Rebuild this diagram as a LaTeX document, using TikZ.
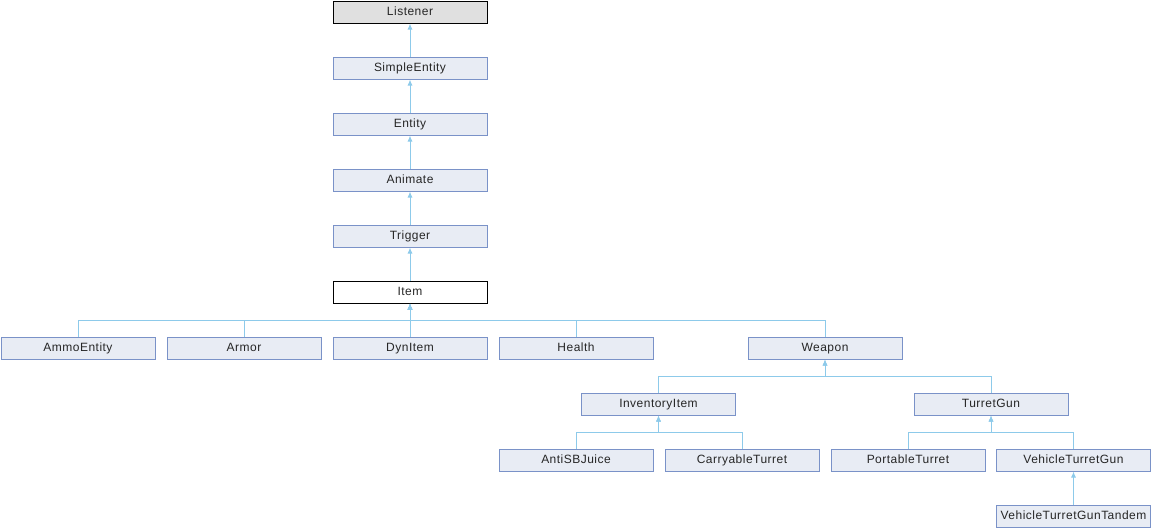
\documentclass[tikz,border=0pt]{standalone}
\usepackage{fontspec}
\setmainfont{Liberation Sans}[LetterSpace=4]
\usetikzlibrary{arrows.meta}
\definecolor{boxfill}{HTML}{E8ECF4}
\definecolor{boxline}{HTML}{7A92C8}
\definecolor{edgeline}{HTML}{8DCAEA}
\definecolor{rootfill}{HTML}{E0E0E0}
\tikzset{
  cls/.style={draw=boxline, fill=boxfill, line width=1pt, minimum width=154pt,
    minimum height=22pt, inner sep=0pt, text height=8.6pt, text depth=2.6pt,
    text=black!85, font=\fontsize{12}{14}\selectfont},
  rootcls/.style={cls, draw=black, fill=rootfill},
  curcls/.style={cls, draw=black, fill=white},
  inherit/.style={draw=edgeline, line width=1pt, -{Latex[length=6pt,width=5pt]}}
}
\begin{document}
\begin{tikzpicture}[x=1pt,y=1pt]
\useasboundingbox (0,0) rectangle (1152,-528);

% Marking the chain of bases
\node [rootcls] (listener) at (410,-12) {Listener};
\node [cls] (simpleentity) at (410,-68) {SimpleEntity};
\node [cls] (entity) at (410,-124) {Entity};
\node [cls] (animate) at (410,-180) {Animate};
\node [cls] (trigger) at (410,-236) {Trigger};
\node [curcls] (item) at (410,-292) {Item};

% Marking the children of Item
\node [cls] (ammoentity) at (78,-348) {AmmoEntity};
\node [cls] (armor) at (244,-348) {Armor};
\node [cls] (dynitem) at (410,-348) {DynItem};
\node [cls] (health) at (576,-348) {Health};
\node [cls] (weapon) at (825,-348) {Weapon};

% Marking the children of Weapon
\node [cls] (inventoryitem) at (658.5,-404) {InventoryItem};
\node [cls] (turretgun) at (991,-404) {TurretGun};

% Marking the leaves
\node [cls] (antisbjuice) at (576,-460) {AntiSBJuice};
\node [cls] (carryableturret) at (742,-460) {CarryableTurret};
\node [cls] (portableturret) at (908,-460) {PortableTurret};
\node [cls] (vehicleturretgun) at (1073.5,-460) {VehicleTurretGun};
\node [cls] (vehicleturretguntandem) at (1073.5,-516) {VehicleTurretGunTandem};

% Drawing edges up the chain
\draw [inherit] (simpleentity) -- (listener);
\draw [inherit] (entity) -- (simpleentity);
\draw [inherit] (animate) -- (entity);
\draw [inherit] (trigger) -- (animate);
\draw [inherit] (item) -- (trigger);

% Drawing edges to Item
\draw [inherit] (ammoentity.north) -- ++(0,16) -| (item.south);
\draw [inherit] (armor.north) -- ++(0,16) -| (item.south);
\draw [inherit] (dynitem) -- (item);
\draw [inherit] (health.north) -- ++(0,16) -| (item.south);
\draw [inherit] (weapon.north) -- ++(0,16) -| (item.south);

% Drawing edges to Weapon
\draw [inherit] (inventoryitem.north) -- ++(0,16) -| (weapon.south);
\draw [inherit] (turretgun.north) -- ++(0,16) -| (weapon.south);

% Drawing edges to InventoryItem and TurretGun
\draw [inherit] (antisbjuice.north) -- ++(0,16) -| (inventoryitem.south);
\draw [inherit] (carryableturret.north) -- ++(0,16) -| (inventoryitem.south);
\draw [inherit] (portableturret.north) -- ++(0,16) -| (turretgun.south);
\draw [inherit] (vehicleturretgun.north) -- ++(0,16) -| (turretgun.south);

% Drawing edge VehicleTurretGunTandem VehicleTurretGun
\draw [inherit] (vehicleturretguntandem) -- (vehicleturretgun);
\end{tikzpicture}
\end{document}
